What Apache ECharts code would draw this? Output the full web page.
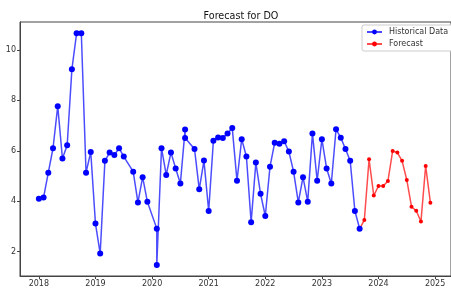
<!DOCTYPE html>
<html>
<head>
<meta charset="utf-8">
<script src="https://cdn.jsdelivr.net/npm/echarts@6/dist/echarts.min.js"></script>
<style>
    html, body { margin: 0; padding: 0; background: #fff; }
    #chart { width: 451px; height: 291px; }
</style>
</head>
<body>
<div id="chart"></div>
<script>
// historical observations (monthly, a few months have two readings)
const histDates = [
    '2018-01', '2018-02', '2018-03', '2018-04', '2018-05', '2018-06', '2018-07', '2018-08', '2018-09', '2018-10', '2018-11', '2018-12',
    '2019-01', '2019-02', '2019-03', '2019-04', '2019-05', '2019-06', '2019-07', '2019-09', '2019-10', '2019-11', '2019-12',
    '2020-02', '2020-02', '2020-03', '2020-04', '2020-05', '2020-06', '2020-07', '2020-08', '2020-08', '2020-10', '2020-11', '2020-12',
    '2021-01', '2021-02', '2021-03', '2021-04', '2021-05', '2021-06', '2021-07', '2021-08', '2021-09', '2021-10', '2021-11', '2021-12',
    '2022-01', '2022-02', '2022-03', '2022-04', '2022-05', '2022-06', '2022-07', '2022-08', '2022-09', '2022-10', '2022-11', '2022-12',
    '2023-01', '2023-02', '2023-03', '2023-04', '2023-05', '2023-06', '2023-07', '2023-08', '2023-09',
];
const histValues = [
    4.10, 4.15, 5.13, 6.10, 7.77, 5.69, 6.22, 9.23, 10.66, 10.66, 5.13, 5.95,
    3.11, 1.92, 5.60, 5.93, 5.83, 6.10, 5.77, 5.17, 3.95, 4.95, 3.98,
    2.91, 1.47, 6.10, 5.04, 5.93, 5.30, 4.70, 6.84, 6.51, 6.07, 4.47, 5.61,
    3.61, 6.40, 6.53, 6.51, 6.69, 6.90, 4.81, 6.46, 5.77, 3.16, 5.53, 4.29,
    3.41, 5.37, 6.32, 6.28, 6.38, 5.97, 5.17, 3.95, 4.95, 3.98, 6.69, 4.81,
    6.46, 5.30, 4.70, 6.85, 6.52, 6.07, 5.60, 3.61, 2.91,
];

// forecast starts from the last observed point
const fcDates = [
    '2023-09', '2023-10', '2023-11', '2023-12', '2024-01', '2024-02', '2024-03', '2024-04',
    '2024-05', '2024-06', '2024-07', '2024-08', '2024-09', '2024-10', '2024-11', '2024-12',
];
const fcValues = [
    2.91, 3.25, 5.66, 4.22, 4.60, 4.60, 4.80, 5.99,
    5.93, 5.60, 4.84, 3.78, 3.62, 3.19, 5.40, 3.94,
];

const toYear = d => {
    const [y, m] = d.split('-').map(Number);
    return y + (m - 1) / 12;
};
const pairs = (dates, values) => dates.map((d, i) => [toYear(d), values[i]]);

const TEXT_COLOR = '#333';
const SPINE_COLOR = '#444';
const FONT = 'DejaVu Sans';

const option = {
    animation: false,
    backgroundColor: '#fff',
    title: {
        text: 'Forecast for DO',
        left: 236,
        top: 6,
        textAlign: 'center',
        textStyle: {
            fontFamily: FONT,
            fontSize: 9.6,
            fontWeight: 'normal',
            color: '#111',
        },
    },
    legend: {
        left: 362,
        top: 25,
        orient: 'vertical',
        itemGap: 4,
        itemWidth: 15,
        itemHeight: 6,
        padding: [3, 6, 3, 4],
        borderColor: '#ccc',
        borderWidth: 1,
        borderRadius: 2,
        backgroundColor: '#fff',
        textStyle: {
            fontFamily: FONT,
            fontSize: 8,
            color: TEXT_COLOR,
            padding: [0, 0, 0, 2],
        },
        data: ['Historical Data', 'Forecast'],
    },
    grid: {
        left: 20,
        right: -3,
        top: 22,
        bottom: 15,
        show: true,
        borderColor: SPINE_COLOR,
        borderWidth: 1,
        containLabel: false,
    },
    xAxis: {
        type: 'value',
        min: 2017.6667,
        max: 2025.281,
        splitNumber: 7,
        axisLine: { show: true, lineStyle: { color: SPINE_COLOR } },
        axisTick: { show: true, length: 3, lineStyle: { color: SPINE_COLOR } },
        splitLine: { show: false },
        axisLabel: {
            fontFamily: FONT,
            fontSize: 8,
            color: TEXT_COLOR,
            margin: 4,
            showMinLabel: false,
            showMaxLabel: false,
            formatter: v => (Number.isInteger(v) ? String(v) : ''),
        },
    },
    yAxis: {
        type: 'value',
        min: 1.03,
        max: 11.11,
        splitNumber: 5,
        axisLine: { show: true, lineStyle: { color: SPINE_COLOR } },
        axisTick: { show: true, length: 3, lineStyle: { color: SPINE_COLOR } },
        splitLine: { show: false },
        axisLabel: {
            fontFamily: FONT,
            fontSize: 8,
            color: TEXT_COLOR,
            margin: 4,
            showMinLabel: false,
            showMaxLabel: false,
            formatter: v => (Number.isInteger(v) ? String(v) : ''),
        },
    },
    series: [
        {
            name: 'Historical Data',
            type: 'line',
            data: pairs(histDates, histValues),
            symbol: 'circle',
            symbolSize: 6,
            showAllSymbol: true,
            itemStyle: { color: '#0000ff' },
            lineStyle: { color: 'rgba(0,0,255,0.7)', width: 1.5 },
            z: 3,
        },
        {
            name: 'Forecast',
            type: 'line',
            data: pairs(fcDates, fcValues),
            symbol: 'circle',
            symbolSize: 4,
            showAllSymbol: true,
            itemStyle: { color: '#ff0000' },
            lineStyle: { color: 'rgba(255,0,0,0.7)', width: 1.5 },
            z: 2,
        },
    ],
};

const myChart = echarts.init(document.getElementById('chart'));
myChart.setOption(option);
</script>
</body>
</html>
